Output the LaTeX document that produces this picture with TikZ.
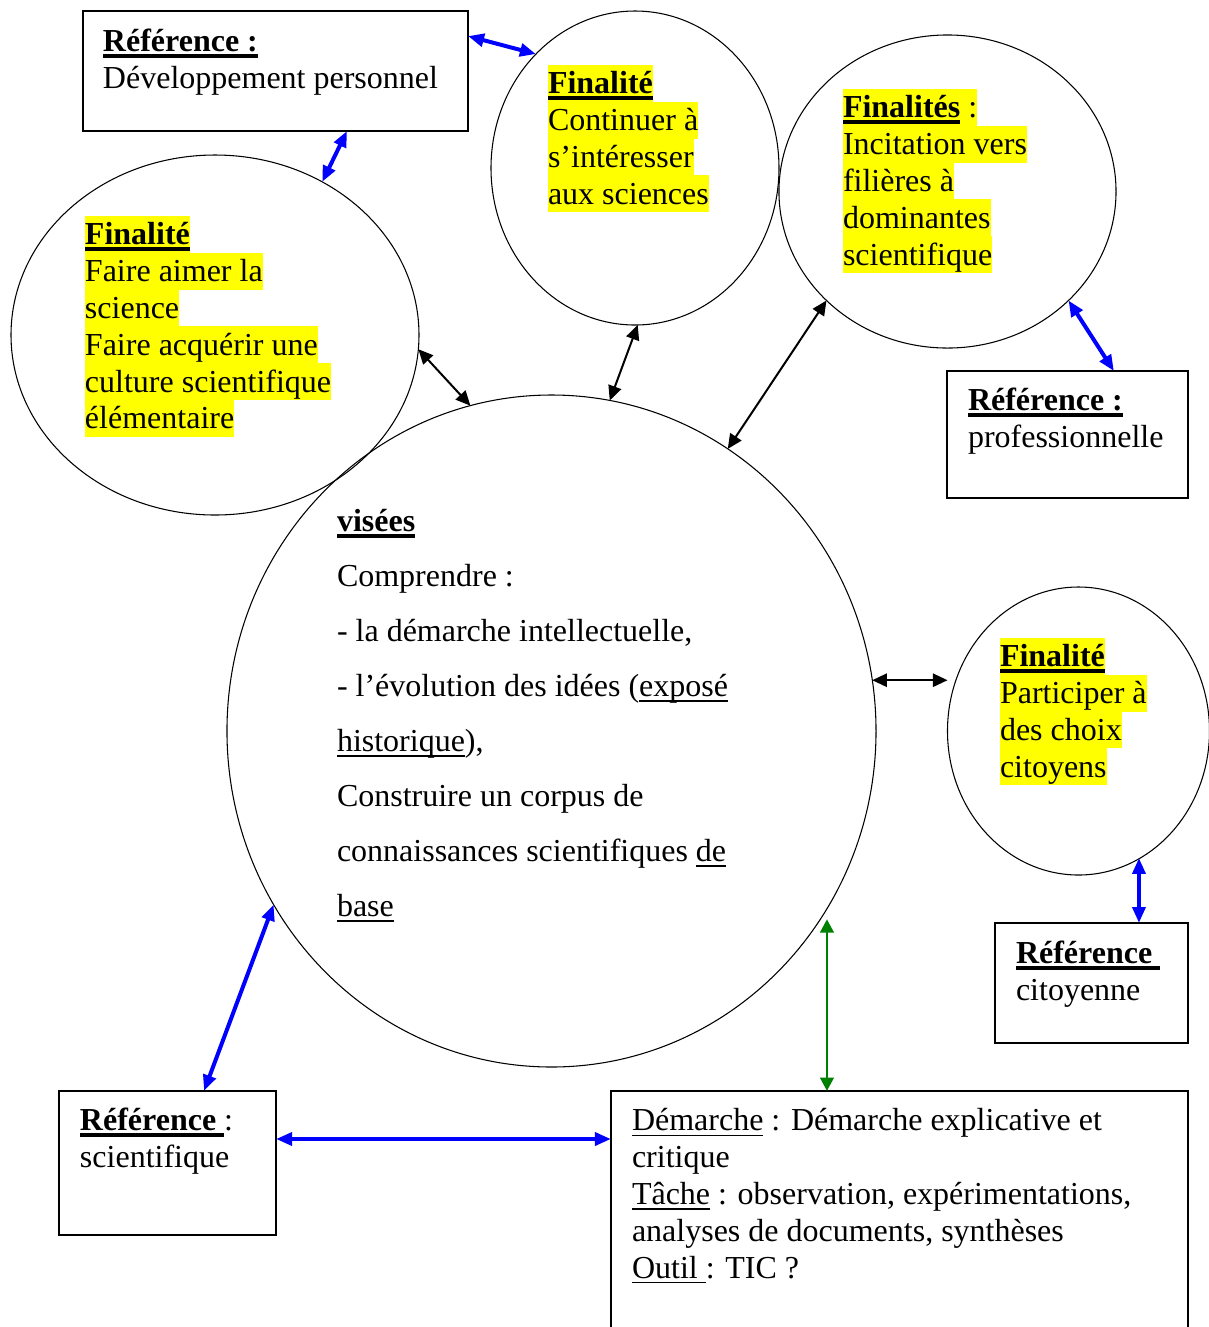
\documentclass[tikz,border=0pt]{standalone}
\usepackage{fontspec}
\setmainfont{Liberation Serif}
\usetikzlibrary{shapes.geometric,arrows.meta,calc}
\definecolor{hly}{RGB}{255,255,0}
\definecolor{grn}{RGB}{0,128,0}
\definecolor{blu}{RGB}{0,0,255}
\newcommand\st{\leavevmode\rule[-3pt]{0pt}{13.8pt}}
\setlength\fboxsep{0pt}
\newcommand\hl[1]{\leavevmode\colorbox{hly}{\st#1}}
\newsavebox\ulbox
\newcommand\ulb[1]{\leavevmode\sbox\ulbox{#1}\rlap{\rule[-2.3pt]{\wd\ulbox}{1.5pt}}\usebox\ulbox}
\newcommand\uln[1]{\leavevmode\sbox\ulbox{#1}\rlap{\rule[-2pt]{\wd\ulbox}{0.6pt}}\usebox\ulbox}
\tikzset{
  ell/.style={draw, ellipse, line width=0.4pt, inner sep=0pt, outer sep=0pt},
  box/.style={draw, rectangle, line width=0.7pt, inner sep=0pt, outer sep=0pt},
  txt/.style={anchor=north west, inner sep=0pt, outer sep=0pt, align=flush left, text width=230pt,
    font=\fontsize{12pt}{13.8pt}\selectfont, execute at begin node={\spaceskip=0pt\xspaceskip=0pt\st}},
  txtwide/.style={txt, font=\fontsize{12pt}{20.6pt}\selectfont},
  barrow/.style={blu, line width=1.5pt, {Triangle[length=6pt,width=4.8pt]}-{Triangle[length=6pt,width=4.8pt]}},
  karrow/.style={black, line width=0.75pt, {Triangle[length=5.5pt,width=5pt]}-{Triangle[length=5.5pt,width=5pt]}},
  garrow/.style={grn, line width=1.1pt, {Triangle[length=5pt,width=5pt]}-{Triangle[length=5pt,width=5pt]}}
}
\begin{document}
\begin{tikzpicture}[x=0.375pt,y=-0.375pt]
\useasboundingbox (0,0) rectangle (1209,1327);
% ellipses
\node[ell, minimum width=153pt, minimum height=135pt] (E1) at (215,335) {};
\node[ell, minimum width=108pt, minimum height=117.75pt] (E2) at (635,168) {};
\node[ell, minimum width=126.4pt, minimum height=117.4pt] (E3) at (947.5,191.5) {};
\node[ell, minimum width=243.4pt, minimum height=252pt] (E4) at (551.5,731) {};
\node[ell, minimum width=98.25pt, minimum height=108pt] (E5) at (1078.5,731) {};
% boxes
\node[box, minimum width=144.4pt, minimum height=45pt] (B1) at (275.5,71) {};
\node[box, minimum width=90.4pt, minimum height=47.6pt] (B2) at (1067.5,434.5) {};
\node[box, minimum width=72.4pt, minimum height=45pt] (B3) at (1091.5,983) {};
\node[box, minimum width=81.4pt, minimum height=54pt] (B4) at (167.5,1163) {};
\node[box, minimum width=216.4pt, minimum height=100.9pt] (B5) at (899.5,1225.5) {};
% texts
\node[txt] (T1) at (103,23) {\ulb{\textbf{Référence :}}\\Développement personnel};
\node[txt] (T2) at (548,65) {\hl{\ulb{\textbf{Finalité}}}\\\hl{Continuer à}\\\hl{s’intéresser}\\\hl{aux sciences}};
\node[txt] (T3) at (843,89) {\hl{\ulb{\textbf{Finalités}} :}\\\hl{Incitation vers}\\\hl{filières à}\\\hl{dominantes}\\\hl{scientifique}};
\node[txt] (T4) at (85,216) {\hl{\ulb{\textbf{Finalité}}}\\\hl{Faire aimer la}\\\hl{science}\\\hl{Faire acquérir une}\\\hl{culture scientifique}\\\hl{élémentaire}};
\node[txt] (T5) at (1000,638) {\hl{\ulb{\textbf{Finalité}}}\\\hl{Participer à}\\\hl{des choix}\\\hl{citoyens}};
\node[txt] (T6) at (968,382) {\ulb{\textbf{Référence :}}\\professionnelle};
\node[txt] (T7) at (1016,935) {\ulb{\textbf{Référence }}\\citoyenne};
\node[txt] (T8) at (80,1102) {\ulb{\textbf{Référence }}:\\scientifique};
\node[txt] (T9) at (632,1102) {\uln{Démarche} : Démarche explicative et\\critique\\\uln{Tâche} : observation, expérimentations,\\analyses de documents, synthèses\\\uln{Outil }: TIC ?};
\node[txtwide] (T10) at (337,503) {\ulb{\textbf{visées}}\\\st Comprendre :\\\st- la démarche intellectuelle,\\\st- l’évolution des idées (\uln{exposé}\\\st\uln{historique}),\\\st Construire un corpus de\\\st connaissances scientifiques \uln{de}\\\st\uln{base}};
% connectors
\coordinate (b1r) at ([yshift=-9.4pt]B1.north east);
\coordinate (b1b) at ([xshift=99pt]B1.south west);
\coordinate (b2t) at ([xshift=62.6pt]B2.north west);
\coordinate (b3t) at ([xshift=54pt]B3.north west);
\coordinate (b4t) at ([xshift=54.4pt]B4.north west);
\coordinate (b4r) at ([yshift=-18pt]B4.north east);
\coordinate (b5t) at ([xshift=81pt]B5.north west);
\draw[barrow] (b1r) -- (E2.131);
\draw[barrow] (b1b) -- (E1.55);
\draw[karrow] (E2.-89) -- (E4.80);
\draw[karrow] (E1.-4) -- (E4.104);
\draw[karrow] (E3.222) -- (E4.58);
\draw[barrow] (E3.-42) -- (b2t);
\draw[karrow] (E4.9) -- (E4.9 -| E5.west);
\draw[barrow] (b3t) -- (b3t |- E5.-64);
\draw[barrow] (E4.212) -- (b4t);
\draw[barrow] (b4r) -- (b4r -| B5.west);
\draw[garrow] (b5t) -- (b5t |- E4.-35);
\end{tikzpicture}
\end{document}
